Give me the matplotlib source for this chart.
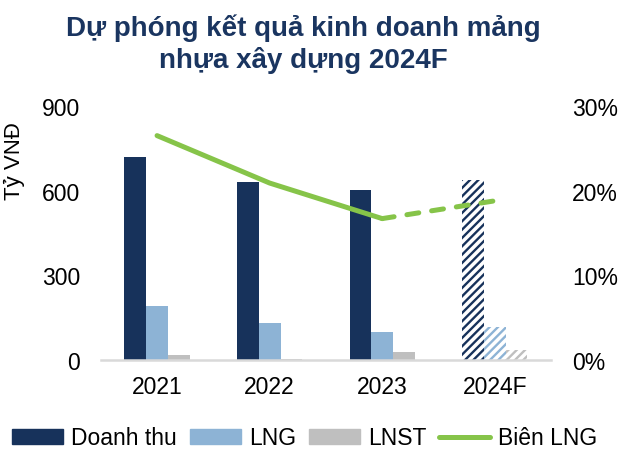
import numpy as np
import matplotlib.pyplot as plt
from matplotlib.patches import Patch
from matplotlib.lines import Line2D

plt.rcParams['font.family'] = ['Liberation Sans', 'DejaVu Sans']
plt.rcParams['hatch.linewidth'] = 1.7

NAM = ['2021', '2022', '2023', '2024F']
DOANH_THU = [720, 630, 602, 638]
LNG = [190, 130, 99, 118]
LNST = [19, 4, 29, 35]
BIEN_LNG = [26.5, 20.9, 16.7, 18.8]   # %
DU_BAO = [False, False, False, True]

MAU_DT = '#17325b'
MAU_LNG = '#8db3d5'
MAU_LNST = '#bfbfbf'
MAU_BIEN = '#86c449'
MAU_TIEUDE = '#1a3560'

fig = plt.figure(figsize=(6.22, 4.52), dpi=100)
ax = fig.add_axes([0.162, 0.2013, 0.724, 0.5620])
ax2 = ax.twinx()

x = np.arange(len(NAM))
w = 0.193

for xs, vals, mau in [(x - w, DOANH_THU, MAU_DT), (x, LNG, MAU_LNG), (x + w, LNST, MAU_LNST)]:
    for xi, v, db in zip(xs, vals, DU_BAO):
        if db:
            ax.bar(xi, v, w, color='white', edgecolor=mau, hatch='////', linewidth=0)
        else:
            ax.bar(xi, v, w, color=mau, linewidth=0)

# duong bien LNG: thuc te (lien) + du bao (net dut)
ax2.plot(x[:3], BIEN_LNG[:3], color=MAU_BIEN, lw=3.6, solid_capstyle='round',
         solid_joinstyle='round')
ax2.plot(x[2:], BIEN_LNG[2:], color=MAU_BIEN, lw=3.6, dash_capstyle='round',
         linestyle=(0, (2.4, 2.6)))

ax.set_xlim(-0.5, 3.5)
ax.set_ylim(0, 900)
ax.set_yticks([0, 300, 600, 900])
ax2.set_ylim(0, 30)
ax2.set_yticks([0, 10, 20, 30])
ax2.set_yticklabels([f'{t}%' for t in [0, 10, 20, 30]])

ax.set_xticks(x)
ax.set_xticklabels(NAM)

for a in (ax, ax2):
    for s in ['top', 'left', 'right', 'bottom']:
        a.spines[s].set_visible(False)
    a.tick_params(length=0, labelsize=16.5, colors='black')
ax.spines['bottom'].set_visible(True)
ax.spines['bottom'].set_color('#d9d9d9')
ax.spines['bottom'].set_linewidth(1.8)
ax.tick_params(axis='x', pad=11)
ax.tick_params(axis='y', pad=15)
ax2.tick_params(axis='y', pad=15)
for lb in ax2.get_yticklabels():
    lb.set_horizontalalignment('left')

fig.text(0.0225, 0.644, 'Tỷ VNĐ', rotation=90, fontsize=16, ha='center', va='center')

fig.suptitle('Dự phóng kết quả kinh doanh mảng\nnhựa xây dựng 2024F', x=0.487, y=0.968,
             fontsize=20, fontweight='bold', color=MAU_TIEUDE, linespacing=1.22)

handles = [Patch(color=MAU_DT), Patch(color=MAU_LNG), Patch(color=MAU_LNST),
           Line2D([0], [0], color=MAU_BIEN, lw=3.6, solid_capstyle='round')]
fig.legend(handles, ['Doanh thu', 'LNG', 'LNST', 'Biên LNG'], loc='center',
           bbox_to_anchor=(0.49, 0.029), ncol=4, frameon=False, fontsize=16.5,
           handlelength=2.22, handleheight=0.6, handletextpad=0.35, columnspacing=0.57,
           borderaxespad=0, borderpad=0)

fig.savefig('out.png', dpi=100)
